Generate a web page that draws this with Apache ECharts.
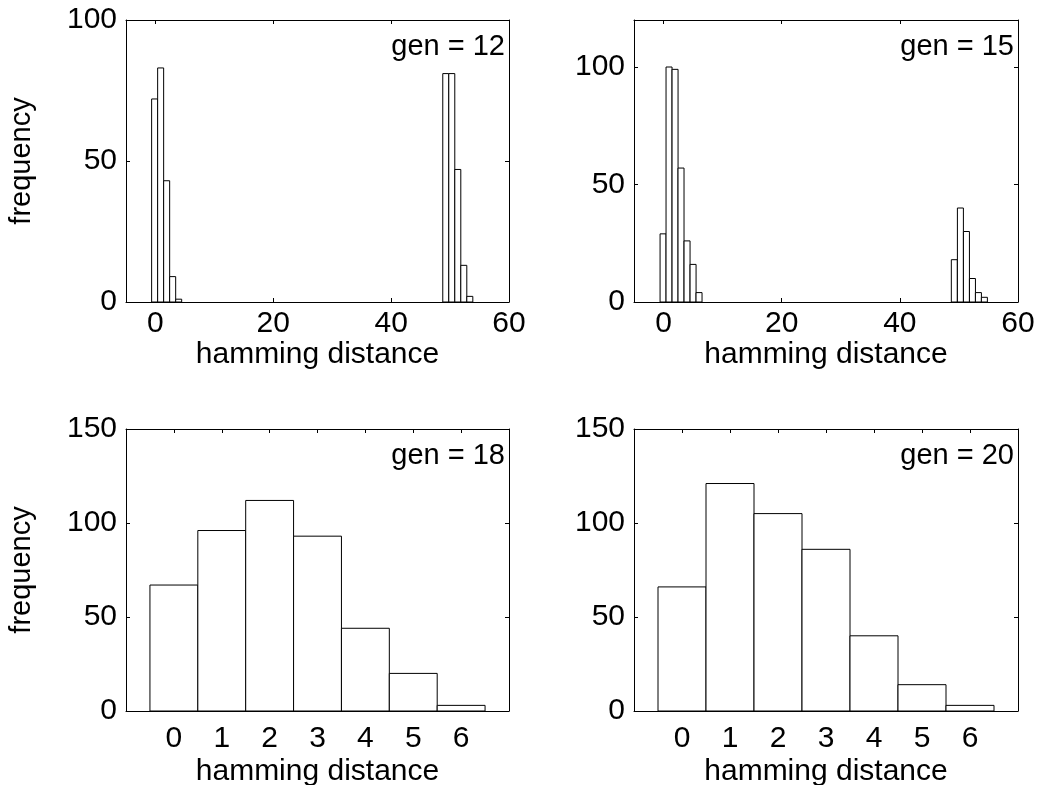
<!DOCTYPE html>
<html>
<head>
<meta charset="utf-8">
<script src="https://cdn.jsdelivr.net/npm/echarts@6/dist/echarts.min.js"></script>
<style>html,body{margin:0;padding:0;background:#fff}#c{width:1043px;height:785px}</style>
</head>
<body>
<div id="c"></div>
<script>
// ---- data ----
const panelLabels = ['gen = 12', 'gen = 15', 'gen = 18', 'gen = 20'];
const xAxisTitle = 'hamming distance';
const yAxisTitle = 'frequency';

// gen = 12 : bin centres and counts
const gen12Centers = [-0.14, 0.88, 1.90, 2.92, 3.94, 49.27, 50.29, 51.31, 52.33, 53.35];
const gen12Counts  = [72, 83, 43, 9, 1, 81, 81, 47, 13, 2];
const gen12BinWidth = 1.02;

// gen = 15
const gen15Centers = [-0.08, 0.93, 1.95, 2.96, 3.98, 5.00, 6.01, 49.22, 50.25, 51.27, 52.29, 53.30, 54.31];
const gen15Counts  = [29, 100, 99, 57, 26, 16, 4, 18, 40, 30, 10, 4, 2];
const gen15BinWidth = 1.016;

// gen = 18
const gen18Centers = [0, 1, 2, 3, 4, 5, 6];
const gen18Counts  = [67, 96, 112, 93, 44, 20, 3];

// gen = 20
const gen20Centers = [0, 1, 2, 3, 4, 5, 6];
const gen20Counts  = [66, 121, 105, 86, 40, 14, 3];
const smallBinWidth = 1;

// tick values
const topXTicks = [0, 20, 40, 60];
const topLeftYTicks = [0, 50, 100];
const topRightYTicks = [0, 50, 100];
const bottomXTicks = [0, 1, 2, 3, 4, 5, 6];
const bottomYTicks = [0, 50, 100, 150];

// ---- chart ----
const FONT = "'Liberation Sans', Arial, Helvetica, sans-serif";
const FS = 30;

const grids = [
  {left: 126, top: 20, width: 383, height: 282},
  {left: 634, top: 20, width: 384, height: 282},
  {left: 126, top: 429, width: 383, height: 282},
  {left: 634, top: 429, width: 384, height: 282}
];

const panels = [
  {xmin: -5, xmax: 60, xt: topXTicks, ymax: 100, yt: topLeftYTicks, c: gen12Centers, v: gen12Counts, w: gen12BinWidth, ylab: true, lm: 7, ng: 38},
  {xmin: -5, xmax: 60, xt: topXTicks, ymax: 120, yt: topRightYTicks, c: gen15Centers, v: gen15Counts, w: gen15BinWidth, ylab: false, lm: 7, ng: 38},
  {xmin: -1, xmax: 7, xt: bottomXTicks, ymax: 150, yt: bottomYTicks, c: gen18Centers, v: gen18Counts, w: smallBinWidth, ylab: true, lm: 13, ng: 46},
  {xmin: -1, xmax: 7, xt: bottomXTicks, ymax: 150, yt: bottomYTicks, c: gen20Centers, v: gen20Counts, w: smallBinWidth, ylab: false, lm: 13, ng: 46}
];

const lineStyle = {color: '#000', width: 1};
const xAxes = [], yAxes = [], series = [], graphics = [];

panels.forEach((p, i) => {
  const base = {
    gridIndex: i, type: 'value', min: p.xmin, max: p.xmax,
    splitLine: {show: false},
    axisLine: {show: true, onZero: false, lineStyle: lineStyle},
    axisTick: {show: true, inside: true, length: 4, lineStyle: lineStyle, customValues: p.xt}
  };
  xAxes.push(Object.assign({}, base, {
    position: 'bottom',
    axisLabel: {show: true, customValues: p.xt, color: '#000', fontSize: FS, fontFamily: FONT, margin: p.lm},
    name: xAxisTitle, nameLocation: 'middle', nameGap: p.ng,
    nameTextStyle: {color: '#000', fontSize: FS, fontFamily: FONT}
  }));
  xAxes.push(Object.assign({}, base, {position: 'top', axisLabel: {show: false}}));

  const ybase = {
    gridIndex: i, type: 'value', min: 0, max: p.ymax,
    splitLine: {show: false},
    axisLine: {show: true, onZero: false, lineStyle: lineStyle},
    axisTick: {show: true, inside: true, length: 4, lineStyle: lineStyle, customValues: p.yt}
  };
  const yl = Object.assign({}, ybase, {
    position: 'left',
    axisLabel: {show: true, customValues: p.yt, color: '#000', fontSize: FS, fontFamily: FONT, margin: 9}
  });
  if (p.ylab) {
    yl.name = yAxisTitle;
    yl.nameLocation = 'middle';
    yl.nameGap = 90;
    yl.nameTextStyle = {color: '#000', fontSize: FS - 1, fontFamily: FONT};
  }
  yAxes.push(yl);
  yAxes.push(Object.assign({}, ybase, {position: 'right', axisLabel: {show: false}}));

  const w = p.w;
  series.push({
    type: 'custom',
    xAxisIndex: i * 2, yAxisIndex: i * 2,
    data: p.c.map((c, k) => [c, p.v[k]]),
    renderItem: function (params, api) {
      const c = api.value(0), h = api.value(1);
      const p0 = api.coord([c - w / 2, h]);
      const p1 = api.coord([c + w / 2, 0]);
      return {
        type: 'rect',
        shape: {x: p0[0], y: p0[1], width: p1[0] - p0[0], height: p1[1] - p0[1]},
        style: {fill: '#fff', stroke: '#000', lineWidth: 1}
      };
    }
  });

  const g = grids[i];
  graphics.push({
    type: 'text',
    right: 1043 - (g.left + g.width) + 4,
    top: g.top + 12,
    style: {text: panelLabels[i], fill: '#000', font: (FS - 1) + 'px ' + FONT}
  });
});

const chart = echarts.init(document.getElementById('c'), null, {renderer: 'canvas'});
chart.setOption({
  animation: false,
  backgroundColor: '#fff',
  grid: grids.map(g => Object.assign({outerBoundsMode: 'none', containLabel: false}, g)),
  xAxis: xAxes,
  yAxis: yAxes,
  series: series,
  graphic: graphics
});
</script>
</body>
</html>
